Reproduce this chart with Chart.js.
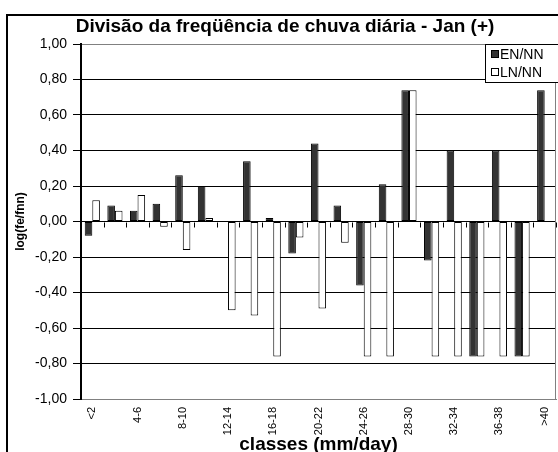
<!DOCTYPE html>
<html>
<head>
<meta charset="utf-8">
<script src="https://cdn.jsdelivr.net/npm/chart.js@4"></script>
<style>
  body { margin: 0; background: #fff; }
  canvas { display: block; }
</style>
</head>
<body>
<canvas id="rain-chart" width="558" height="452"></canvas>
<script>
let classes = ['<2', '2-4', '4-6', '6-8', '8-10', '10-12', '12-14', '14-16', '16-18', '18-20', '20-22',
    '22-24', '24-26', '26-28', '28-30', '30-32', '32-34', '34-36', '36-38', '38-40', '>40'];
let enNN = [-0.08, 0.09, 0.06, 0.10, 0.26, 0.20, 0, 0.34, 0.02, -0.18, 0.44,
    0.09, -0.36, 0.21, 0.74, -0.22, 0.40, -0.76, 0.40, -0.76, 0.74];
let lnNN = [0.12, 0.06, 0.15, -0.03, -0.16, 0.02, -0.50, -0.53, -0.76, -0.09, -0.49,
    -0.12, -0.76, -0.76, 0.74, -0.76, -0.76, -0.76, -0.76, -0.76, 0];
let yMin = -1;
let yMax = 1;
let yStep = 0.2;
let chartTitle = 'Divisão da freqüência de chuva diária - Jan (+)';

const FONT = "'Liberation Sans', Arial, sans-serif";

// outer frame, title, legend, right plot border and the little ticks on the zero line
let framePlugin = {
    id: 'frame',
    afterDatasetsDraw: function(chart) {
        let ctx = chart.ctx;
        let x = chart.scales.x;
        let y = chart.scales.y;
        let y0 = Math.round(y.getPixelForValue(0)) + 0.5;
        ctx.save();
        ctx.strokeStyle = '#000';
        ctx.lineWidth = 1;
        ctx.beginPath();
        for (let k = 1; k <= classes.length; k++) {
            let px = Math.round(x.getPixelForValue(k - 0.5)) + 0.5;
            ctx.moveTo(px, y0);
            ctx.lineTo(px, y0 + 5);
        }
        ctx.stroke();
        ctx.strokeStyle = '#808080';
        ctx.beginPath();
        let right = Math.round(chart.chartArea.right) - 0.5;
        ctx.moveTo(right, chart.chartArea.top);
        ctx.lineTo(right, chart.chartArea.bottom);
        ctx.stroke();
        ctx.restore();
    },
    afterDraw: function(chart) {
        let ctx = chart.ctx;
        ctx.save();
        ctx.strokeStyle = '#000';
        ctx.lineWidth = 2;
        ctx.strokeRect(7, 15, 600, 500);

        ctx.fillStyle = '#000';
        ctx.font = 'bold 19px ' + FONT;
        ctx.textAlign = 'center';
        ctx.textBaseline = 'middle';
        ctx.fillText(chartTitle, 285, 27);

        // legend box
        let lx = 485.5, ly = 44.5, lw = 80, lh = 38;
        ctx.fillStyle = '#fff';
        ctx.fillRect(lx, ly, lw, lh);
        ctx.lineWidth = 1;
        ctx.strokeRect(lx, ly, lw, lh);
        ctx.font = '14px ' + FONT;
        ctx.textAlign = 'left';
        chart.data.datasets.forEach(function(ds, i) {
            let cy = 54 + i * 18;
            ctx.fillStyle = ds.backgroundColor;
            ctx.fillRect(491.5, cy - 3.5, 7, 7);
            ctx.strokeStyle = '#000';
            ctx.strokeRect(491.5, cy - 3.5, 7, 7);
            ctx.fillStyle = '#000';
            ctx.fillText(ds.label, 500, cy + 1);
        });
        ctx.restore();
    }
};

let ctx = document.getElementById('rain-chart').getContext('2d');
window.rainChart = new Chart(ctx, {
    type: 'bar',
    data: {
        labels: classes,
        datasets: [{
            label: 'EN/NN',
            data: enNN,
            backgroundColor: '#333333',
            borderColor: '#000',
            borderWidth: 1,
            borderSkipped: false
        }, {
            label: 'LN/NN',
            data: lnNN,
            backgroundColor: '#ffffff',
            borderColor: '#000',
            borderWidth: 1,
            borderSkipped: false
        }]
    },
    plugins: [framePlugin],
    options: {
        responsive: false,
        animation: false,
        devicePixelRatio: 1,
        categoryPercentage: 0.67,
        barPercentage: 1.0,
        layout: { padding: { left: 0, right: 2, top: 44, bottom: 0 } },
        plugins: {
            legend: { display: false },
            tooltip: { enabled: false },
            title: { display: false }
        },
        scales: {
            x: {
                afterFit: function(scale) { scale.height = 53; },
                grid: { display: false },
                border: { display: true, color: '#808080', width: 1 },
                ticks: {
                    autoSkip: false,
                    minRotation: 90,
                    maxRotation: 90,
                    padding: 0,
                    color: '#000',
                    font: { family: FONT, size: 11 },
                    callback: function(value, index) {
                        return index % 2 === 0 ? classes[index] : '';
                    }
                },
                title: {
                    display: true,
                    text: 'classes (mm/day)',
                    color: '#000',
                    font: { family: FONT, size: 19, weight: 'bold', lineHeight: 1 },
                    padding: { top: 0, bottom: -2 }
                }
            },
            y: {
                min: yMin,
                max: yMax,
                afterFit: function(scale) { scale.width = 81; },
                ticks: {
                    stepSize: yStep,
                    padding: 6,
                    color: '#000',
                    font: { family: FONT, size: 14 },
                    callback: function(value) {
                        return value.toFixed(2).replace('.', ',');
                    }
                },
                grid: {
                    color: function(c) {
                        let v = c.tick ? c.tick.value : 0;
                        return Math.abs(Math.abs(v) - 1) < 1e-6 ? '#808080' : '#000';
                    },
                    tickColor: '#000',
                    tickLength: 8,
                    lineWidth: 1
                },
                border: { color: '#000', width: 2 },
                title: {
                    display: true,
                    text: 'log(fe/fnn)',
                    color: '#000',
                    font: { family: FONT, size: 12, weight: 'bold', lineHeight: 1.2 },
                    padding: { top: 13, bottom: 0 }
                }
            }
        }
    }
});
</script>
</body>
</html>
